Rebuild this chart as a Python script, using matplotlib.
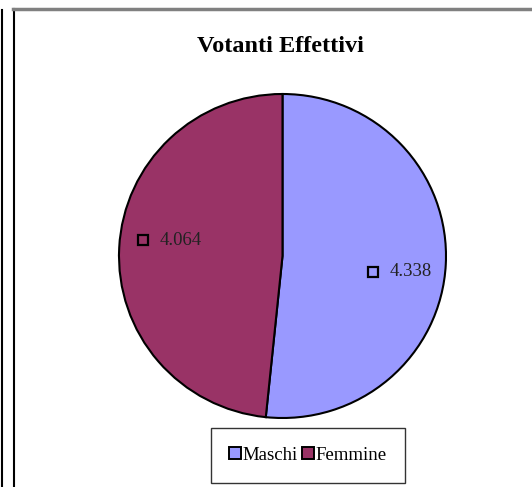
import numpy as np
import matplotlib
matplotlib.use("Agg")
import matplotlib.pyplot as plt
from matplotlib.lines import Line2D
from matplotlib.patches import Rectangle

# dati
categorie = ["Maschi", "Femmine"]
votanti = [4338, 4064]
etichette = ["4.338", "4.064"]
colori = ["#9999FF", "#993366"]

W, H = 532, 487
fig = plt.figure(figsize=(W / 100, H / 100), dpi=100)
fig.patch.set_facecolor("white")

# cornici come nel foglio excel
fig.add_artist(Line2D([1.5 / W, 1.5 / W], [0, 1 - 10 / H], color="black", lw=1.5))
fig.add_artist(Line2D([13.5 / W, 13.5 / W], [0, 1 - 9 / H], color="black", lw=1.5))
fig.add_artist(Line2D([13 / W, 1], [1 - 8.5 / H, 1 - 8.5 / H], color="#808080", lw=2.5))

fig.text(280 / W, 1 - 46 / H, "Votanti Effettivi", ha="center", va="center",
         fontsize=17.5, fontweight="bold", family="Liberation Serif")

ax = fig.add_axes([119 / W, 69 / H, 327 / W, 324 / H])
wedges, _ = ax.pie(votanti, colors=colori, startangle=90, counterclock=False,
                   wedgeprops=dict(edgecolor="black", linewidth=1.5))
ax.set_xlim(-1, 1)
ax.set_ylim(-1, 1)
ax.set_aspect("auto")
ax.axis("off")

# etichette con quadratino
for w, lab in zip(wedges, etichette):
    ang = np.deg2rad((w.theta1 + w.theta2) / 2.0 - 5)
    x, y = 0.71 * np.cos(ang), 0.71 * np.sin(ang)
    ax.plot(x - 0.148, y, marker="s", ms=7, mfc="none", mec="black", mew=1.6)
    ax.text(x - 0.05, y, lab, ha="left", va="center", fontsize=13.5,
            family="Liberation Serif", color="#222222")

# legenda
handles = [Rectangle((0, 0), 1, 1, facecolor=c, edgecolor="black", lw=1.4) for c in colori]
leg = fig.legend(handles, categorie, loc="center", bbox_to_anchor=(308 / W, 1 - 455.5 / H),
                 ncol=2, frameon=True, fancybox=False, edgecolor="black",
                 prop={"family": "Liberation Serif", "size": 13.5},
                 handlelength=0.6, handleheight=0.6, handletextpad=0.1,
                 columnspacing=0.25, borderpad=1.0, borderaxespad=0)
leg.get_frame().set_linewidth(1.0)

fig.savefig("out.png", dpi=100)
